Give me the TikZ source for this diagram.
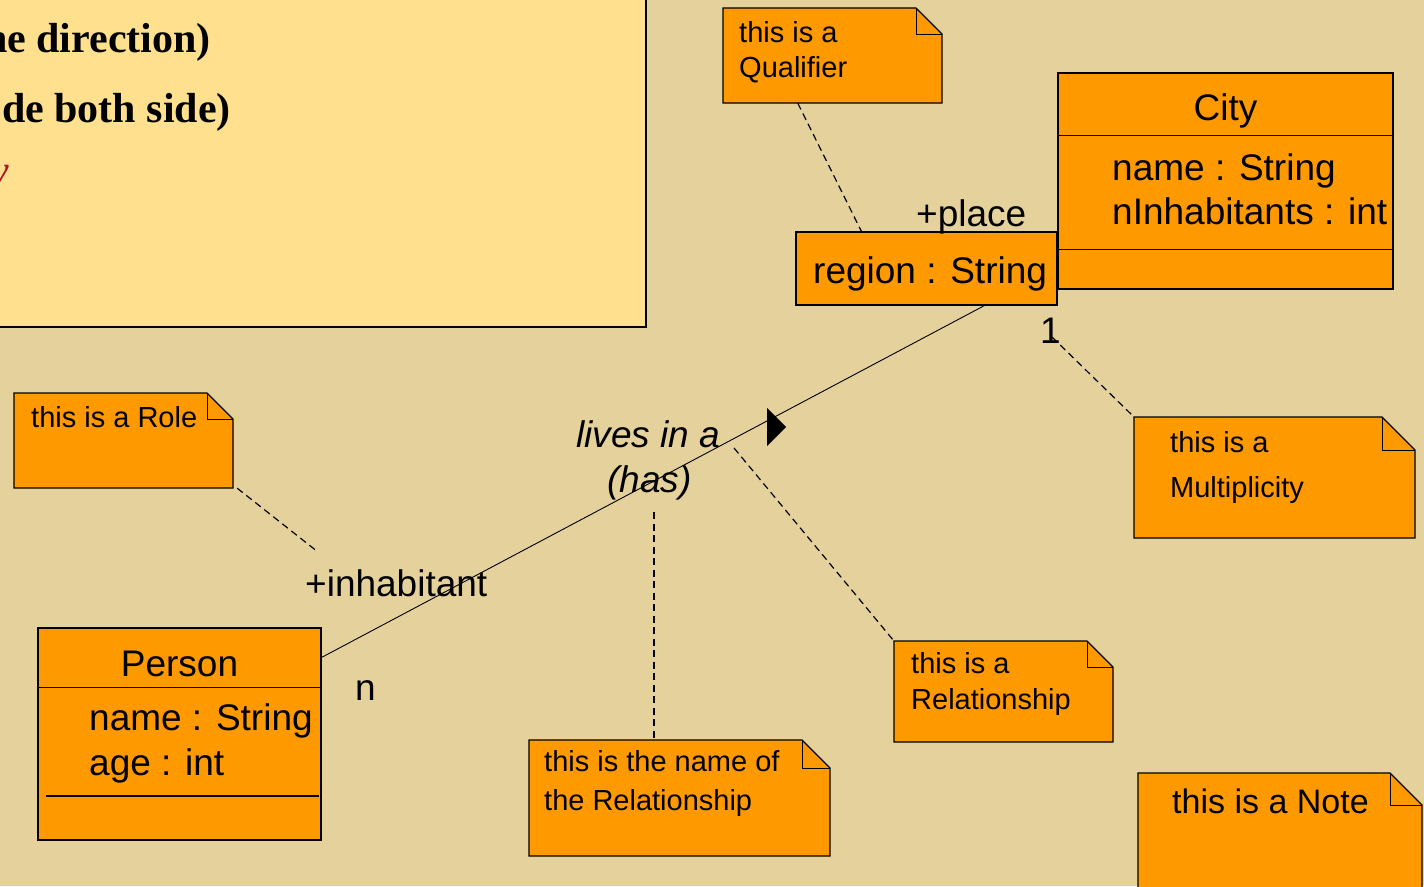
\documentclass[tikz,border=0pt]{standalone}
\usepackage{fontspec}
\setmainfont{Liberation Sans}
\newfontfamily\slideserif{Liberation Serif}
\usetikzlibrary{calc,fit}

\definecolor{bg}{RGB}{228,209,155}
\definecolor{panel}{RGB}{255,224,143}
\definecolor{umlorange}{RGB}{255,153,0}
\definecolor{slidered}{RGB}{170,25,40}

\newcommand{\fsz}[1]{\fontsize{#1}{#1}\selectfont}

\tikzset{
  classbox/.style={draw=black, fill=umlorange, line width=1.1pt, inner sep=0pt},
  divider/.style={line width=0.9pt},
  notebody/.style={draw=black, fill=umlorange, line width=1.1pt, line join=miter},
  notefold/.style={draw=black, line width=1pt},
  notelink/.style={dash pattern=on 7pt off 4.5pt, line width=1.2pt},
  assoc/.style={line width=0.9pt},
  lbl/.style={inner sep=0pt, anchor=base west, font=\fsz{37}},
  notetxt/.style={inner sep=0pt, anchor=base west, font=\fsz{29}},
}

% folded-corner note: name, top-left x y, bottom-right x y, fold size
\newcommand{\umlnote}[6]{%
  \node[fit={(#2,#3) (#4,#5)}, inner sep=0pt] (#1) {};
  \path[notebody] (#2,#3) -- (#4-#6,#3) -- (#4,#3+#6) -- (#4,#5) -- (#2,#5) -- cycle;
  \draw[notefold] (#4-#6,#3) -- (#4-#6,#3+#6) -- (#4,#3+#6);
}

\begin{document}
\begin{tikzpicture}[x=1pt, y=-1pt]
\useasboundingbox (0,0) rectangle (1424,886);
\clip (0,0) rectangle (1424,886);
\fill[bg] (0,0) rectangle (1424,886);

% slide text panel
\filldraw[fill=panel, draw=black, line width=1.6pt] (-10,-10) rectangle (646,327);
\node[inner sep=0pt, anchor=base east, font=\slideserif\bfseries\fsz{42}] (t1) at (211,52) {ne direction)};
\node[inner sep=0pt, anchor=base east, font=\slideserif\bfseries\fsz{42}] (t2) at (231,122) {de both side)};
\node[inner sep=0pt, anchor=base east, font=\slideserif\itshape\fsz{42}, text=slidered] (t3) at (9,184) {y};

% classes
\node[classbox, fit={(1058,73) (1393,289)}] (city) {};
\draw[divider] (1058,135) -- (1393,135);
\draw[divider] (1058,249) -- (1393,249);
\node[inner sep=0pt, anchor=base, font=\fsz{37}] (cityname) at (1225.5,120) {City};
\node[lbl] (cityattr1) at (1112,180) {name : String};
\node[lbl] (cityattr2) at (1112,224) {nInhabitants : int};

\node[classbox, fit={(796,232) (1057,305)}] (qual) {};
\node[lbl] (qualattr) at (813,283) {region : String};

\node[classbox, fit={(38,628) (321,840)}] (person) {};
\draw[divider] (38,687) -- (321,687);
\draw[line width=1.4pt] (46,796) -- (319,796);
\node[inner sep=0pt, anchor=base, font=\fsz{37}] (personname) at (179.5,676) {Person};
\node[lbl] (pattr1) at (89,730) {name : String};
\node[lbl] (pattr2) at (89,775) {age : int};

% association with its adornments
\draw[assoc] ($(person.north east)+(0,30)$) -- ($(qual.south west)+(189,0)$);
\fill (767,408) -- (786,427) -- (767,446) -- cycle;
\node[lbl, font=\itshape\fsz{37}] (relname1) at (576,447) {lives in a};
\node[lbl, font=\itshape\fsz{37}] (relname2) at (607,492) {(has)};
\node[lbl] (roleplace) at (916,226) {+place};
\node[lbl] (roleinh) at (305,596) {+inhabitant};
\node[lbl] (multn) at (355,700) {n};
\node[lbl] (mult1) at (1040,343) {1};

% notes
\umlnote{qualnote}{723}{8}{942}{103}{26}
\node[notetxt] (qn1) at (739,42) {this is a};
\node[notetxt] (qn2) at (739,77) {Qualifier};

\umlnote{rolenote}{14}{393}{233}{488}{26}
\node[notetxt] (rn1) at (31,427) {this is a Role};

\umlnote{multnote}{1134}{417}{1415}{538}{33}
\node[notetxt] (mn1) at (1170,452) {this is a};
\node[notetxt] (mn2) at (1170,497) {Multiplicity};

\umlnote{relnote}{894}{641}{1113}{742}{26}
\node[notetxt] (ln1) at (911,673) {this is a};
\node[notetxt] (ln2) at (911,709) {Relationship};

\umlnote{namenote}{529}{740}{830}{856}{28}
\node[notetxt] (nn1) at (544,771) {this is the name of};
\node[notetxt] (nn2) at (544,810) {the Relationship};

\umlnote{plainnote}{1138}{773}{1422}{910}{32}
\node[notetxt, font=\fsz{34}] (pn1) at (1172,813) {this is a Note};

% note attachments
\coordinate (qualtop) at ($(qual.north west)+(66,0)$);
\draw[notelink] ($(qualnote.south west)+(75,0)$) -- (qualtop);
\coordinate (roleend) at (318,552);
\draw[notelink] ($(rolenote.south east)+(4,0)$) -- (roleend);
\coordinate (multstart) at (1052,337);
\draw[notelink] (multstart) -- (multnote.north west);
\coordinate (relstart) at (734,448);
\draw[notelink] (relstart) -- (relnote.north west);
\coordinate (namestart) at (654,512);
\draw[notelink] (namestart) -- (namestart |- namenote.north);
\end{tikzpicture}
\end{document}
